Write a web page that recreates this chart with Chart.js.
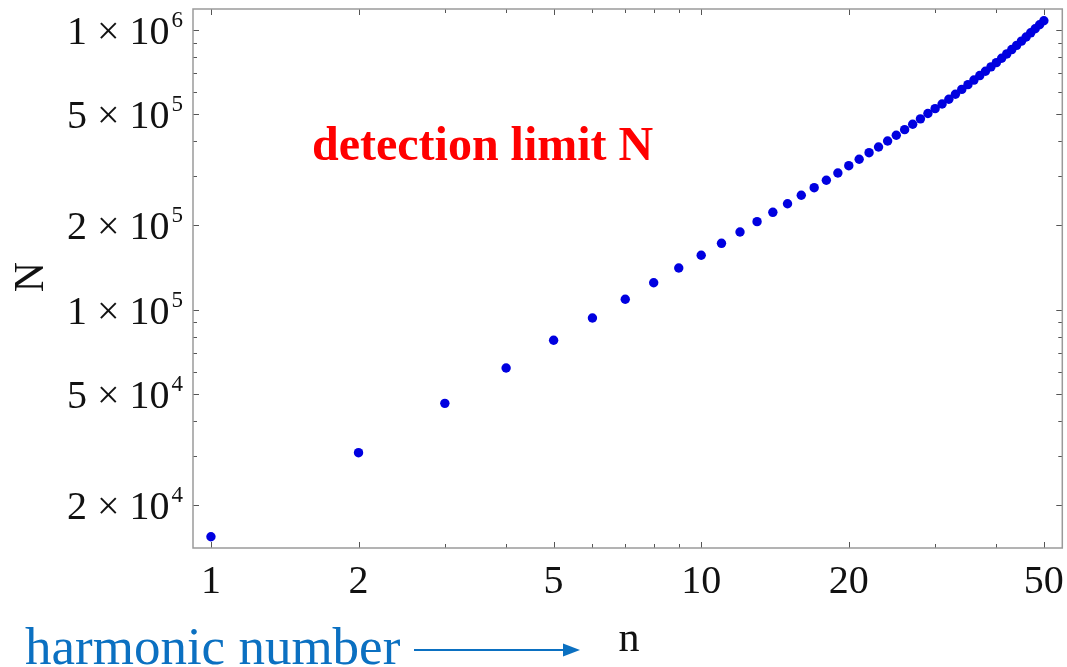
<!DOCTYPE html>
<html><head><meta charset="utf-8">
<script src="https://cdn.jsdelivr.net/npm/chart.js@4.4.0/dist/chart.umd.min.js"></script>
<style>html,body{margin:0;padding:0;background:#fff;overflow:hidden}#wrap{position:relative;width:1067px;height:667px}</style>
</head><body><div id="wrap"><canvas id="c" width="1067" height="667"></canvas></div>
<script>
const harmonicNumbers = [1,2,3,4,5,6,7,8,9,10,11,12,13,14,15,16,17,18,19,20,21,22,23,24,25,26,27,28,29,30,31,32,33,34,35,36,37,38,39,40,41,42,43,44,45,46,47,48,49,50];
const detectionLimit = [15380,30740,46150,61780,77600,93250,108770,124700,140800,156300,
  172500,189400,206200,222700,239000,256200,272800,290000,307900,327000,
  344700,363900,381500,400700,420200,439900,460000,481000,502500,523000,
  543400,565000,589000,613000,637300,662000,687000,712000,738000,764000,
  792000,821000,851000,881000,912000,944000,977000,1010000,1044000,1079000];
const xTickValues = [1,2,3,4,5,6,7,8,9,10,20,30,40,50];
const xLabelValues = [1,2,5,10,20,50];
const xLabelTexts = ['1','2','5','10','20','50'];
const yTickValues = [20000,30000,40000,50000,60000,70000,80000,90000,100000,200000,300000,400000,500000,600000,700000,800000,900000,1000000];
const yLabelValues = [20000,50000,100000,200000,500000,1000000];
const yLabelMantissas = ['2','5','1','2','5','1'];
const yLabelExponents = ['4','4','5','5','5','6'];
const xTitle = 'n';
const yTitle = 'N';
const annotationText = 'detection limit N';
const noteText = 'harmonic number';

const SERIF = '"Liberation Serif", "Times New Roman", serif';

const framePlugin = {
  id: 'frame',
  beforeDatasetsDraw(chart) {
    const {ctx, chartArea: a, scales: {x, y}} = chart;
    ctx.save();
    ctx.strokeStyle = '#555';
    ctx.lineWidth = 1;
    xTickValues.forEach(v => {
      const px = Math.round(x.getPixelForValue(v)) + 0.5;
      const len = xLabelValues.includes(v) ? 6 : 4;
      ctx.beginPath();
      ctx.moveTo(px, a.bottom); ctx.lineTo(px, a.bottom - len);
      ctx.moveTo(px, a.top); ctx.lineTo(px, a.top + len);
      ctx.stroke();
    });
    yTickValues.forEach(v => {
      const py = Math.round(y.getPixelForValue(v)) + 0.5;
      const len = yLabelValues.includes(v) ? 6 : 4;
      ctx.beginPath();
      ctx.moveTo(a.left, py); ctx.lineTo(a.left + len, py);
      ctx.moveTo(a.right, py); ctx.lineTo(a.right - len, py);
      ctx.stroke();
    });
    ctx.strokeStyle = '#9a9a9a';
    ctx.lineWidth = 1.5;
    ctx.strokeRect(a.left, a.top, a.right - a.left, a.bottom - a.top);
    ctx.restore();
  },
  afterDraw(chart) {
    const {ctx, chartArea: a, scales: {x, y}} = chart;
    ctx.save();
    ctx.fillStyle = '#111';
    // x labels
    ctx.font = '40px ' + SERIF;
    ctx.textAlign = 'center';
    ctx.textBaseline = 'alphabetic';
    xLabelValues.forEach((v, i) => {
      ctx.fillText(xLabelTexts[i], x.getPixelForValue(v), 593);
    });
    // y labels with superscripts
    yLabelValues.forEach((v, i) => {
      const py = y.getPixelForValue(v);
      ctx.font = '23px ' + SERIF;
      const ew = ctx.measureText(yLabelExponents[i]).width;
      const right = 183;
      ctx.textAlign = 'left';
      ctx.fillText(yLabelExponents[i], right - ew, py - 3);
      ctx.font = '40px ' + SERIF;
      ctx.textAlign = 'right';
      ctx.fillText(yLabelMantissas[i] + ' \u00d7 10', right - ew - 2, py + 14);
    });
    // y title
    ctx.save();
    ctx.translate(43, 277);
    ctx.rotate(-Math.PI / 2);
    ctx.font = '42px ' + SERIF;
    ctx.textAlign = 'center';
    ctx.fillText(yTitle, 0, 0);
    ctx.restore();
    // x title
    ctx.font = '42px ' + SERIF;
    ctx.textAlign = 'center';
    ctx.fillText(xTitle, 629, 651);
    // annotation
    ctx.fillStyle = '#ff0000';
    ctx.font = 'bold 48px ' + SERIF;
    ctx.textAlign = 'left';
    ctx.fillText(annotationText, 312, 160);
    // note + arrow
    const blue = '#0b70c1';
    ctx.fillStyle = blue;
    ctx.font = '53px ' + SERIF;
    ctx.fillText(noteText, 25, 664);
    ctx.strokeStyle = blue;
    ctx.lineWidth = 2;
    ctx.beginPath();
    ctx.moveTo(414, 650); ctx.lineTo(566, 650);
    ctx.stroke();
    ctx.beginPath();
    ctx.moveTo(580, 650); ctx.lineTo(563, 643.5); ctx.lineTo(563, 656.5); ctx.closePath();
    ctx.fill();
    ctx.restore();
  }
};

new Chart(document.getElementById('c'), {
  type: 'scatter',
  data: {
    datasets: [{
      data: harmonicNumbers.map((n, i) => ({x: n, y: detectionLimit[i]})),
      pointRadius: 4.7,
      pointHoverRadius: 4.7,
      backgroundColor: '#0000e0',
      borderWidth: 0,
      pointBorderWidth: 0
    }]
  },
  options: {
    responsive: false,
    animation: false,
    layout: {padding: {left: 193, top: 9, right: 2, bottom: 119}},
    scales: {
      x: {type: 'logarithmic', display: false, min: 0.9192, max: 54.52, bounds: 'data'},
      y: {type: 'logarithmic', display: false, min: 14020, max: 1188700, bounds: 'data'}
    },
    plugins: {legend: {display: false}, tooltip: {enabled: false}}
  },
  plugins: [framePlugin]
});
</script>
</body></html>
